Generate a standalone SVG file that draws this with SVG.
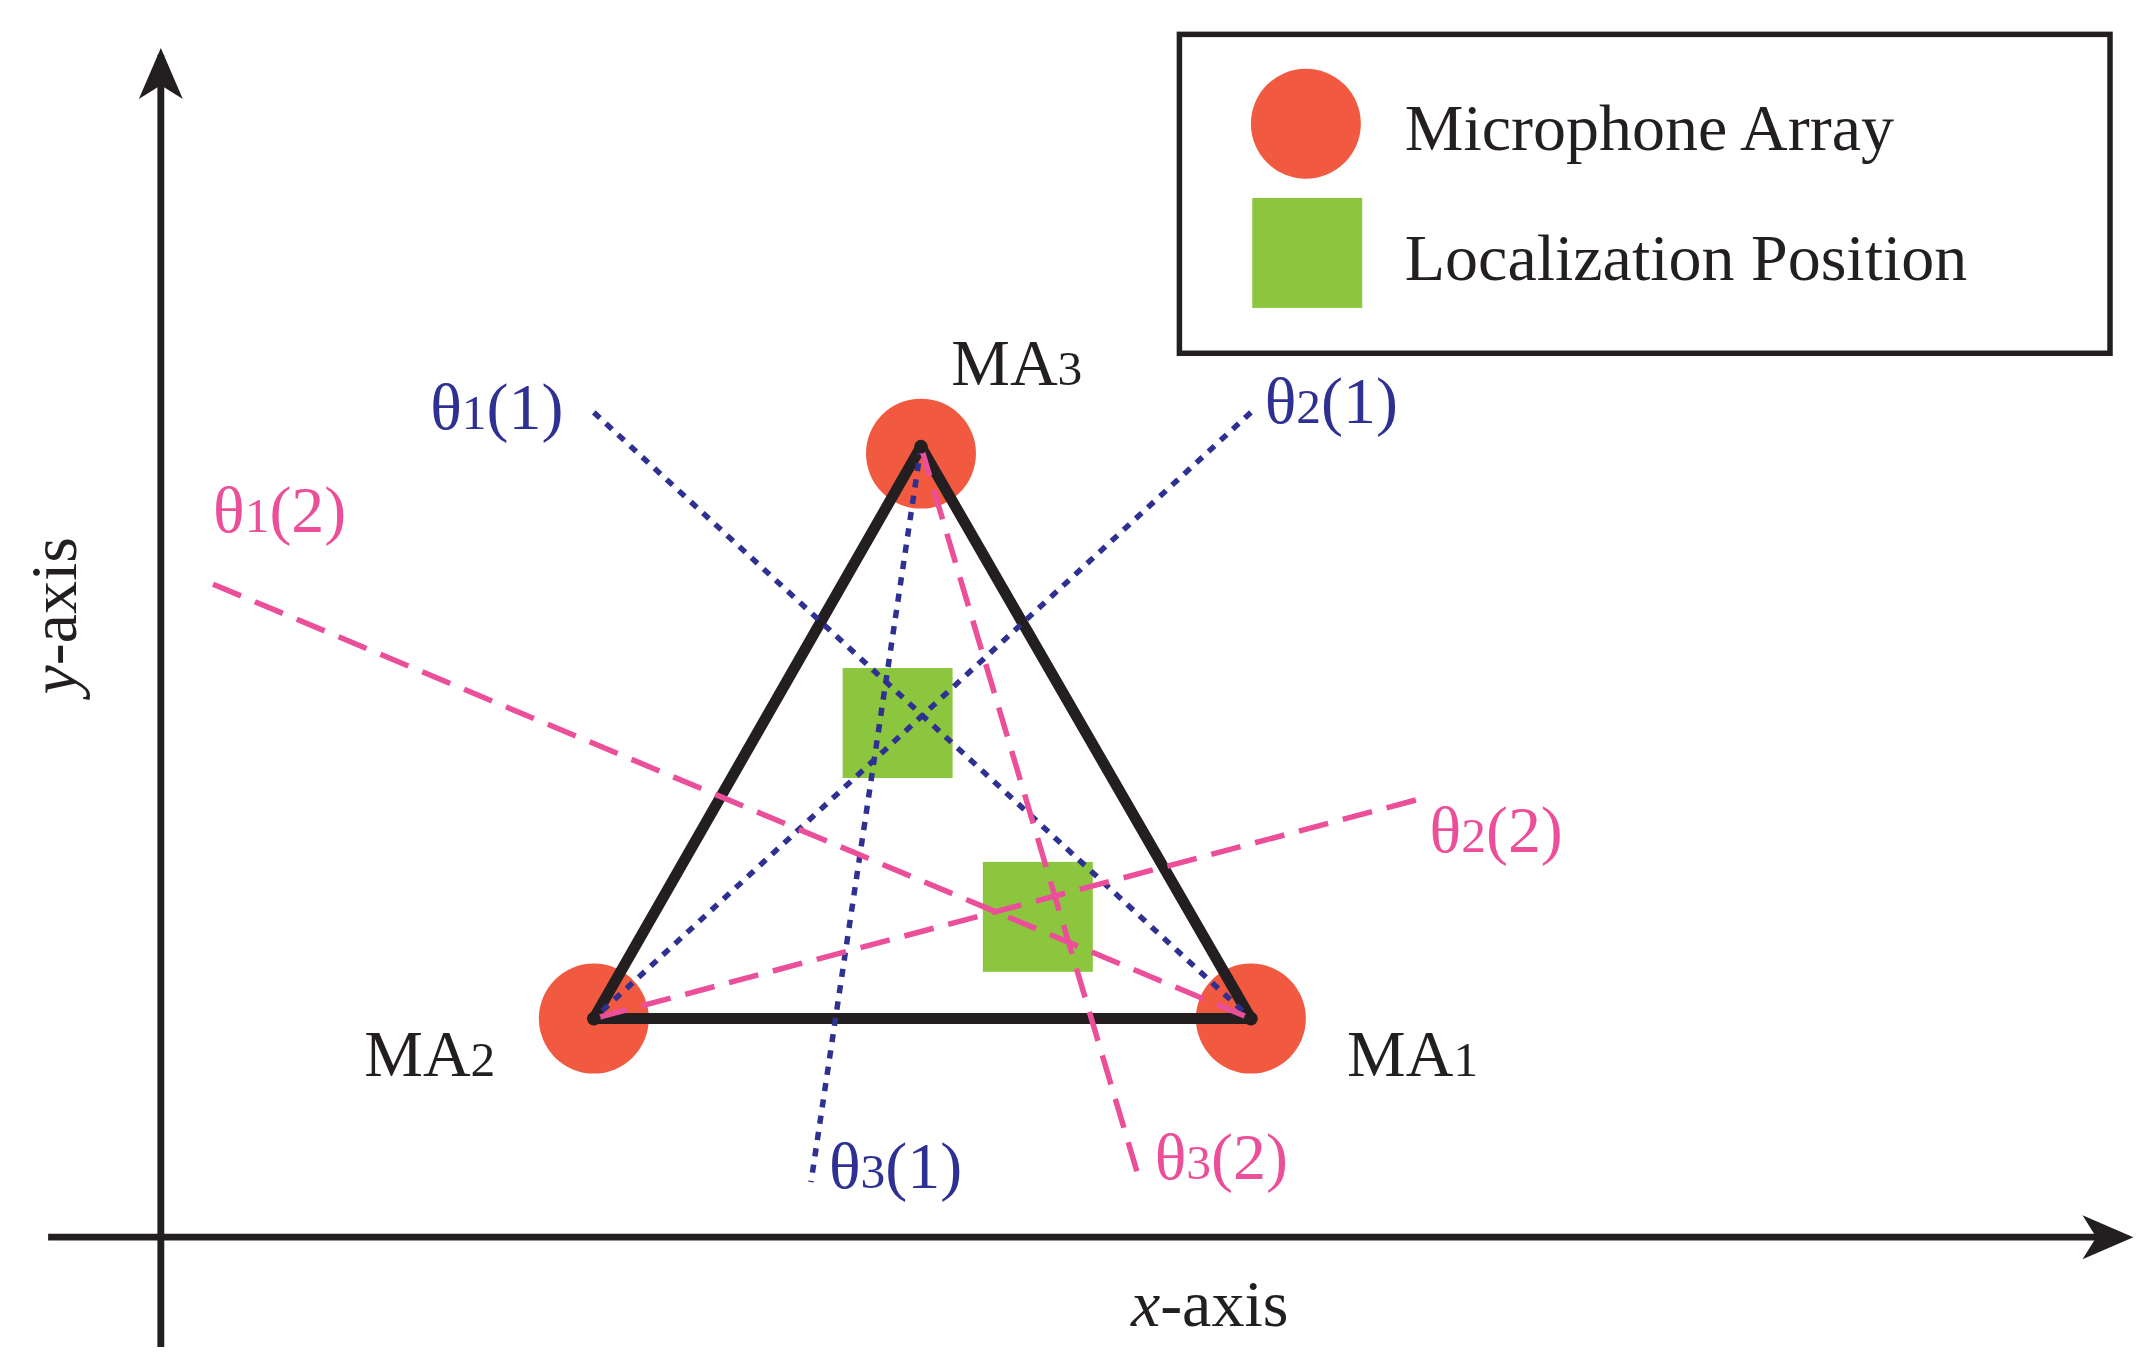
<svg xmlns="http://www.w3.org/2000/svg" width="2145" height="1354" viewBox="0 0 2145 1354">
<style>
text{font-family:"Liberation Serif","Times New Roman",serif;font-size:48px}
.k{fill:#231f20}.b{fill:#2e3192}.p{fill:#ec4f9a}
.s{font-size:36px}
.dot{stroke:#2e3192;stroke-width:4;stroke-dasharray:6 6;fill:none}
.dash{stroke:#ec4f9a;stroke-width:4;stroke-dasharray:22 11;fill:none}
.ma{fill:#f15a40}.lp{fill:#8cc63f}
</style>
<defs><marker id="ar" viewBox="0 0 10 10" refX="9" refY="5" markerWidth="9" markerHeight="9" markerUnits="userSpaceOnUse" orient="auto"><path d="M0,0L10,5L0,10L3,5Z" fill="#231f20"/></marker></defs>
<rect width="2145" height="1354" fill="#fff"/>
<g transform="scale(1.3746)">
<g id="axes" stroke="#231f20" stroke-width="5" fill="none">
<line x1="117" y1="980" x2="117" y2="40"/>
<path d="M117,35 L101,72 L117,62 L133,72Z" fill="#231f20" stroke="none"/>
<line x1="35" y1="900" x2="1545" y2="900"/>
<path d="M1552,900 L1515,884 L1525,900 L1515,916Z" fill="#231f20" stroke="none"/>
</g>
<text x="880" y="965" text-anchor="middle" class="k"><tspan font-style="italic">x</tspan>-axis</text>
<text transform="translate(55,448) rotate(-90)" text-anchor="middle" class="k"><tspan font-style="italic">y</tspan>-axis</text>
<g id="legend">
<rect x="858" y="25" width="677" height="232" fill="#fff" stroke="#231f20" stroke-width="4"/>
<circle cx="950" cy="90" r="40" class="ma"/>
<rect x="911" y="144" width="80" height="80" class="lp"/>
<text x="1022" y="109" class="k">Microphone Array</text>
<text x="1022" y="204" class="k">Localization Position</text>
</g>
<g id="MA3"><circle cx="670" cy="330" r="40" class="ma"/><text x="692" y="280" class="k">MA<tspan class="s">3</tspan></text></g>
<g id="MA2"><circle cx="432" cy="741" r="40" class="ma"/><text x="265" y="783" class="k">MA<tspan class="s">2</tspan></text></g>
<g id="MA1"><circle cx="910" cy="741" r="40" class="ma"/><text x="980" y="783" class="k">MA<tspan class="s">1</tspan></text></g>
<g id="triangle"><path d="M670,325 L432,741 L910,741Z" fill="none" stroke="#231f20" stroke-width="8" stroke-linejoin="round"/></g>
<g id="pos1"><rect x="613" y="486" width="80" height="80" class="lp"/></g>
<g id="pos2"><rect x="715" y="627" width="80" height="80" class="lp"/></g>
<g id="connectors">
<line x1="432" y1="300" x2="910" y2="741" class="dot"/>
<line x1="910" y1="300" x2="432" y2="741" class="dot"/>
<line x1="670" y1="325" x2="590" y2="860" class="dot"/>
<line x1="155" y1="425" x2="910" y2="741" class="dash"/>
<line x1="1030" y1="582" x2="432" y2="741" class="dash"/>
<line x1="670" y1="325" x2="830" y2="862" class="dash"/>
<circle cx="670" cy="325" r="5" fill="#231f20"/><circle cx="432" cy="741" r="5" fill="#231f20"/><circle cx="910" cy="741" r="5" fill="#231f20"/>
</g>
<text x="313" y="312" class="b">θ<tspan class="s">1</tspan>(1)</text>
<text x="920" y="308" class="b">θ<tspan class="s">2</tspan>(1)</text>
<text x="603" y="864" class="b">θ<tspan class="s">3</tspan>(1)</text>
<text x="155" y="387" class="p">θ<tspan class="s">1</tspan>(2)</text>
<text x="1040" y="620" class="p">θ<tspan class="s">2</tspan>(2)</text>
<text x="840" y="858" class="p">θ<tspan class="s">3</tspan>(2)</text>
</g>
</svg>
